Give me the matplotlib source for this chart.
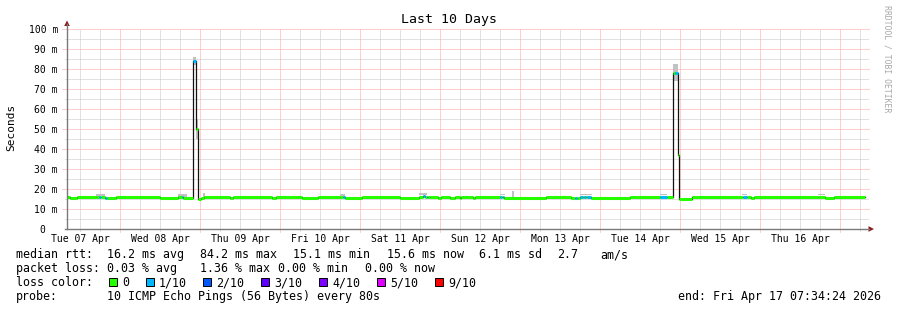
import matplotlib
matplotlib.use('Agg')
import matplotlib.pyplot as plt
from matplotlib.patches import Rectangle, Polygon
from matplotlib.lines import Line2D

# ---------------- data ----------------
# median rtt runs: start hour (hours since Tue 07 Apr 00:00), median (ms), loss (x/10)
seg_start_h = [7.57, 9.0, 11.1, 16.8, 17.7, 18.3, 19.5, 20.1, 22.8, 36.0, 41.4, 42.6, 42.9,
               46.0, 46.7, 47.3, 48.3, 49.2, 57.0, 57.9, 69.6, 70.8, 78.6, 83.4, 90.0, 90.9,
               91.5, 96.6, 108.0, 113.7, 114.9, 115.5, 116.1, 116.4, 117.0, 119.4, 120.3,
               123.0, 124.5, 126.0, 126.3, 129.9, 130.5, 138.0, 138.6, 138.9, 139.2, 151.8,
               159.3, 160.5, 161.1, 162.0, 162.9, 163.2, 163.8, 164.1, 165.3, 177.0, 186.0,
               188.1, 190.0, 190.6, 191.3, 191.7, 195.6, 210.6, 210.9, 212.1, 213.3, 214.2,
               233.4, 235.5, 238.2]
seg_median_ms = [16.0, 15.6, 16.0, 16.2, 16.0, 15.8, 15.6, 15.6, 16.0, 15.6, 15.8, 15.8, 15.6,
                 84.0, 50.0, 15.1, 15.6, 16.0, 15.6, 16.0, 15.6, 16.0, 15.6, 16.0, 16.2, 16.0,
                 15.6, 16.0, 15.6, 16.2, 16.4, 16.2, 16.0, 15.8, 16.0, 15.6, 16.0,
                 15.6, 16.0, 15.6, 16.0, 15.6, 16.0, 16.0, 16.0, 16.0, 15.6, 16.0,
                 15.6, 15.6, 15.6, 16.0, 16.2, 16.2, 16.0, 15.8, 15.6, 16.0, 16.0,
                 16.0, 77.8, 77.8, 37.0, 15.1, 16.0, 16.2, 16.0, 16.0, 15.6, 16.0,
                 16.2, 15.6, 16.0]
seg_loss = [0, 0, 0, 0, 1, 0, 1, 0, 0, 0, 0, 1, 0,
            1, 0, 0, 0, 0, 0, 0, 0, 0, 0, 0, 0, 1,
            0, 0, 0, 0, 1, 0, 1, 0, 0, 0, 0,
            0, 0, 0, 0, 0, 0, 1, 0, 1, 0, 0,
            0, 1, 0, 1, 0, 1, 0, 1, 0, 0, 1,
            0, 0, 1, 0, 0, 0, 0, 1, 0, 0, 0,
            0, 0, 0]
end_h = 247.57

# smoke (spread of individual pings)
smoke_t0 = [16.8, 41.4, 46.0, 46.7, 48.8, 90.0, 113.7, 138.0, 141.5, 162.0, 186.0, 190.0, 191.3, 210.6, 233.4]
smoke_t1 = [19.5, 44.1, 46.7, 47.3, 49.5, 91.5, 116.1, 139.5, 142.2, 165.6, 188.1, 191.3, 191.7, 212.1, 235.5]
smoke_lo = [16.5, 16.0, 82.0, 45.0, 16.2, 16.5, 17.0, 17.0, 16.2, 17.0, 17.0, 74.0, 37.0, 17.0, 17.0]
smoke_hi = [17.5, 17.3, 86.0, 55.0, 18.2, 17.3, 18.0, 17.5, 19.0, 17.5, 17.5, 82.5, 43.0, 17.5, 17.5]

day_labels = ['Tue 07 Apr', 'Wed 08 Apr', 'Thu 09 Apr', 'Fri 10 Apr', 'Sat 11 Apr',
              'Sun 12 Apr', 'Mon 13 Apr', 'Tue 14 Apr', 'Wed 15 Apr', 'Thu 16 Apr']
y_ticks = [0, 10, 20, 30, 40, 50, 60, 70, 80, 90, 100]
y_labels = ['0  '] + [f'{v} m' for v in y_ticks[1:]]

loss_colors = ['#26ff00', '#00b8ff', '#0059ff', '#5e00ff', '#7e00ff', '#dd00ff', '#ff0000']
loss_labels = ['0', '1/10', '2/10', '3/10', '4/10', '5/10', '9/10']
loss_index = {0: 0, 1: 1, 2: 2, 3: 3, 4: 4, 5: 5, 9: 6}

# ---------------- figure ----------------
W, H = 897, 310
fig = plt.figure(figsize=(W / 100, H / 100), dpi=100)
fig.patch.set_facecolor('white')
MONO = 'DejaVu Sans Mono'

def fx(px):
    return px / W

def fy(py):
    return 1 - py / H

ax = fig.add_axes([fx(67), fy(229), 800 / W, 200 / H])
ax.set_xlim(8.1, 248.1)
ax.set_ylim(0, 100)
for s in ax.spines.values():
    s.set_visible(False)

MAJ = '#ffa0a0'
MIN = '#c4c4c4'
dot = (0, (1, 1))
lw_g = 0.72
# horizontal grid
for v in range(5, 100, 10):
    ax.axhline(v, xmin=-0.0025, xmax=1.002, color=MIN, lw=lw_g, ls=dot, clip_on=False, zorder=1)
for v in range(10, 101, 10):
    ax.axhline(v, xmin=-0.006, xmax=1.002, color=MAJ, lw=lw_g, ls=dot, clip_on=False, zorder=1)
# vertical grid
for h in range(12, 249, 6):
    if h % 24 != 0:
        ax.axvline(h, ymin=-0.01, ymax=1, color=MIN, lw=lw_g, ls=dot, clip_on=False, zorder=1)
for h in range(24, 249, 24):
    ax.axvline(h, ymin=-0.015, ymax=1, color=MAJ, lw=lw_g, ls=dot, clip_on=False, zorder=1)

# smoke
for t0, t1, lo, hi in zip(smoke_t0, smoke_t1, smoke_lo, smoke_hi):
    ax.fill_between([t0, t1], [lo, lo], [hi, hi], color='#c2c2c2', lw=0, zorder=2)

# median line (black connecting step line)
xs = seg_start_h + [end_h]
ys = seg_median_ms + [seg_median_ms[-1]]
ax.step(xs, ys, where='post', color='#111111', lw=0.9, zorder=3)

# loss coloured median segments
seg_end_h = seg_start_h[1:] + [end_h]
cols = [loss_colors[loss_index[l]] for l in seg_loss]
ax.hlines(seg_median_ms, seg_start_h, seg_end_h, colors=cols, lw=2.2, zorder=4,
          capstyle='butt')

# ticks
ax.set_yticks(y_ticks)
ax.set_yticklabels(y_labels, fontfamily=MONO, fontsize=7)
ax.set_xticks([12 + 24 * i for i in range(len(day_labels))])
ax.set_xticklabels(day_labels, fontfamily=MONO, fontsize=7)
ax.tick_params(axis='y', length=0, pad=6.5)
ax.tick_params(axis='x', length=0, pad=3.3)

# axes lines with arrows
AX = '#7a7a7a'
ARR = '#8b1a1a'
fig.add_artist(Line2D([fx(67), fx(67)], [fy(229), fy(24)], color=AX, lw=1.0))
fig.add_artist(Line2D([fx(65), fx(869)], [fy(229), fy(229)], color=AX, lw=1.0))
fig.add_artist(Polygon([[fx(64.2), fy(26)], [fx(69.8), fy(26)], [fx(67), fy(20.5)]],
                       closed=True, color=ARR, lw=0))
fig.add_artist(Polygon([[fx(868.5), fy(226.2)], [fx(868.5), fy(231.8)], [fx(874), fy(229)]],
                       closed=True, color=ARR, lw=0))

# titles
fig.text(fx(448.5), fy(23.5), 'Last 10 Days', ha='center', va='baseline',
         fontfamily=MONO, fontsize=9.5)
fig.text(fx(11), fy(127), 'Seconds', ha='center', va='center', rotation=90,
         fontfamily=MONO, fontsize=8)
fig.text(fx(887), fy(5), 'RRDTOOL / TOBI OETIKER', ha='center', va='top', rotation=270,
         fontfamily=MONO, fontsize=5.9, color='#a8a8a8')

# legend
FS = 8.4
def put(x, y, s, **kw):
    fig.text(fx(x), fy(y), s, ha=kw.pop('ha', 'left'), va='baseline',
             fontfamily=MONO, fontsize=FS, **kw)

line1 = [(15.5, 'median rtt:'), (106.5, '16.2 ms avg'), (199.5, '84.2 ms max'),
         (292.5, '15.1 ms min'), (386.5, '15.6 ms now'), (478.5, '6.1 ms sd'),
         (557.5, '2.7'), (600.5, 'am/s')]
line2 = [(15.5, 'packet loss:'), (106.5, '0.03 % avg'), (199.5, '1.36 % max'),
         (278.5, '0.00 % min'), (365, '0.00 % now')]
for x, s in line1:
    put(x, 258, s)
for x, s in line2:
    put(x, 272, s)
put(15.5, 286, 'loss color:')
box_x = [109, 145.7, 203, 261, 319, 377, 435]
for bx, c, lab in zip(box_x, loss_colors, loss_labels):
    fig.add_artist(Rectangle((fx(bx), fy(286)), 8 / W, 8.5 / H, facecolor=c,
                             edgecolor='black', lw=0.7))
    put(bx + 13, 286, lab)
put(15.5, 300, 'probe:')
put(106.5, 300, '10 ICMP Echo Pings (56 Bytes) every 80s')
put(881, 300, 'end: Fri Apr 17 07:34:24 2026', ha='right')

fig.savefig('out.png', dpi=100, facecolor='white')
